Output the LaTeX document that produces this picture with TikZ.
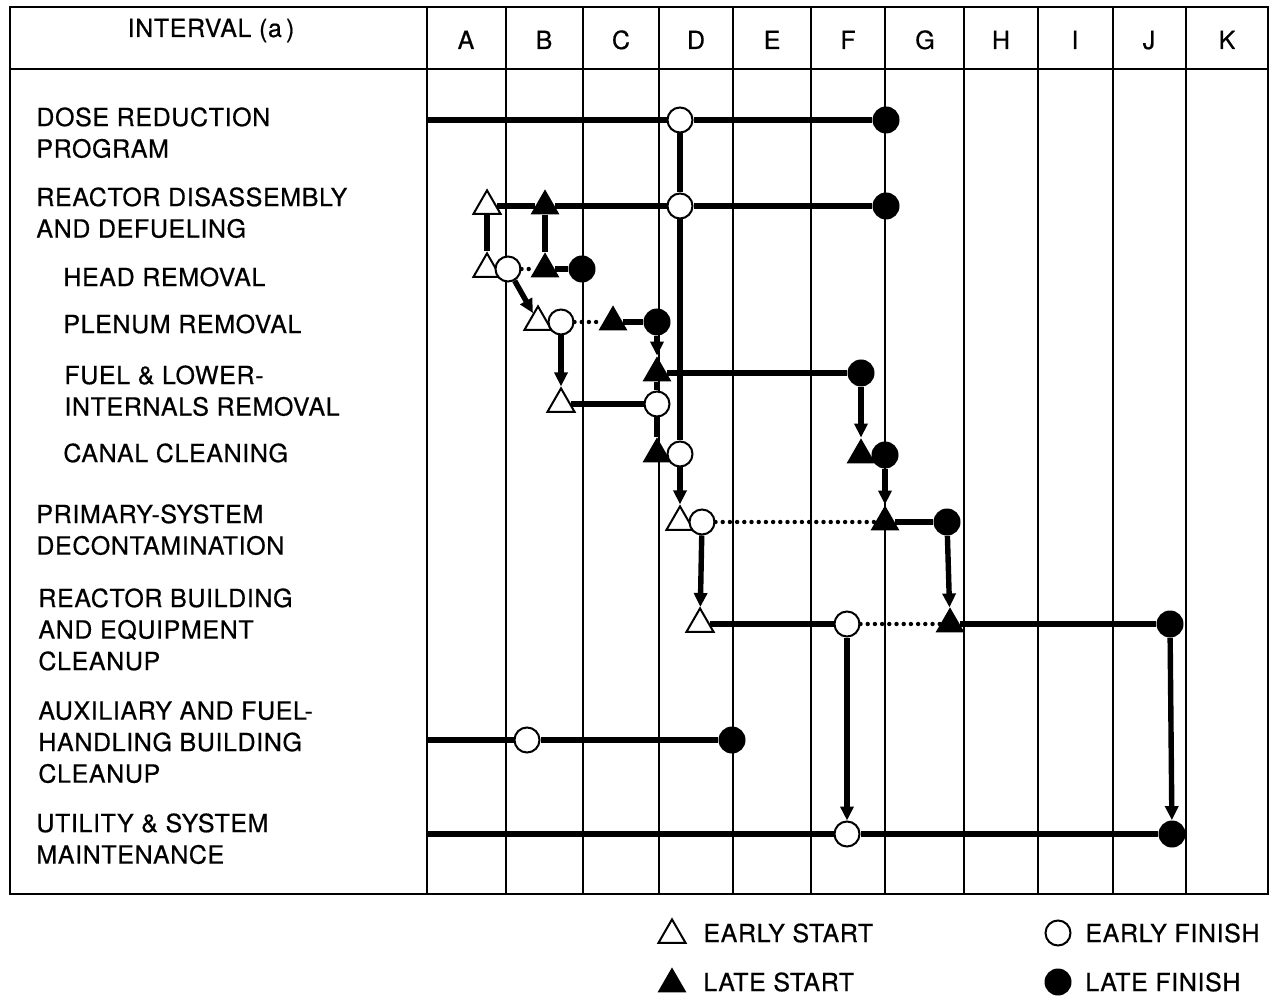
\documentclass[tikz,border=0pt]{standalone}
\usepackage{fontspec}
\setmainfont{TeX Gyre Heros}[LetterSpace=2.5,FakeBold=0.6]
\usetikzlibrary{shapes.geometric,arrows.meta}

\begin{document}
\begin{tikzpicture}[x=0.5pt,y=-0.5pt,font=\fontsize{12.5}{15.75}\selectfont]
		\tikzset{grid/.style={line width=1.1pt},
			bar/.style={line width=2.7pt},
			slack/.style={line width=2.2pt,dash pattern=on 0pt off 3.6pt,line cap=round},
			link/.style={line width=2.7pt,-{Triangle[length=7pt,width=6.5pt]}},
			estart/.style={regular polygon,regular polygon sides=3,draw,fill=white,line width=1pt,minimum size=15.6pt,inner sep=0pt},
			lstart/.style={regular polygon,regular polygon sides=3,fill=black,minimum size=16.6pt,inner sep=0pt},
			efinish/.style={circle,draw,fill=white,line width=1pt,minimum size=12.5pt,inner sep=0pt},
			lfinish/.style={circle,fill=black,minimum size=13.5pt,inner sep=0pt},
			task/.style={anchor=north west,align=left,inner sep=0pt}};
		\useasboundingbox (0,0) rectangle (1278,999);
		\draw[grid] (10,7) rectangle (1268,894);
		\draw[grid] (10,69) -- (1268,69);
		\foreach \x in {427,506,583,659,733,811,885,964,1038,1113,1186}
			\draw[grid] (\x,7) -- (\x,894);
		\node[anchor=base] (interval) at (211,37) {INTERVAL (a\,)};
		\foreach \c/\x in {A/466,B/544,C/621,D/696,E/772,F/848,G/925,H/1001,I/1075,J/1149,K/1227}
			\node[anchor=base] (col\c) at (\x,49) {\c};
		\node[task] (dose) at (36,107) {DOSE REDUCTION\\PROGRAM};
		\node[task] (rdd) at (36,187) {REACTOR DISASSEMBLY\\AND DEFUELING};
		\node[task] (head) at (63,267) {HEAD REMOVAL};
		\node[task] (plen) at (63,314) {PLENUM REMOVAL};
		\node[task] (fuel) at (64,365) {FUEL \& LOWER-\\INTERNALS REMOVAL};
		\node[task] (canal) at (63,443) {CANAL CLEANING};
		\node[task] (prim) at (36,504) {PRIMARY-SYSTEM\\DECONTAMINATION};
		\node[task] (rbe) at (38,588) {REACTOR BUILDING\\AND EQUIPMENT\\CLEANUP};
		\node[task] (aux) at (38,701) {AUXILIARY AND FUEL-\\HANDLING BUILDING\\CLEANUP};
		\node[task] (util) at (36,813) {UTILITY \& SYSTEM\\MAINTENANCE};
		\coordinate (d-0) at (427,120);
		\node[efinish] (d-ef) at (680,120) {};
		\node[lfinish] (d-lf) at (886,120) {};
		\node[estart] (r-es) at (487,206) {};
		\node[lstart] (r-ls) at (545,206) {};
		\node[efinish] (r-ef) at (680,206) {};
		\node[lfinish] (r-lf) at (886,206) {};
		\node[estart] (h-es) at (487,269) {};
		\node[efinish] (h-ef) at (508,269) {};
		\node[lstart] (h-ls) at (545,269) {};
		\node[lfinish] (h-lf) at (582,269) {};
		\node[estart] (p-es) at (538,322) {};
		\node[efinish] (p-ef) at (561,322) {};
		\node[lstart] (p-ls) at (613,322) {};
		\node[lfinish] (p-lf) at (657,322) {};
		\node[lstart] (f-ls) at (657,373) {};
		\node[lfinish] (f-lf) at (861,373) {};
		\node[estart] (f-es) at (561,404) {};
		\node[efinish] (f-ef) at (657,404) {};
		\node[lstart] (c-lsa) at (657,454) {};
		\node[efinish] (c-ef) at (680,454) {};
		\node[lstart] (c-lsb) at (861,455) {};
		\node[lfinish] (c-lf) at (885,455) {};
		\node[estart] (ps-es) at (680,522) {};
		\node[efinish] (ps-ef) at (702,522) {};
		\node[lstart] (ps-ls) at (885,522) {};
		\node[lfinish] (ps-lf) at (947,522) {};
		\node[estart] (rb-es) at (700,624) {};
		\node[efinish] (rb-ef) at (847,624) {};
		\node[lstart] (rb-ls) at (950,624) {};
		\node[lfinish] (rb-lf) at (1170,624) {};
		\coordinate (a-0) at (427,740);
		\node[efinish] (a-ef) at (527,740) {};
		\node[lfinish] (a-lf) at (732,740) {};
		\coordinate (u-0) at (427,834);
		\node[efinish] (u-ef) at (847,834) {};
		\node[lfinish] (u-lf) at (1172,834) {};
		\draw[bar] (d-0) -- (d-ef) -- (d-lf);
		\draw[bar] (r-es) -- (r-ls) -- (r-ef) -- (r-lf);
		\draw[bar] (h-ls) -- (h-lf);
		\draw[bar] (p-ls) -- (p-lf);
		\draw[bar] (f-ls) -- (f-lf);
		\draw[bar] (f-es) -- (f-ef);
		\draw[bar] (ps-ls) -- (ps-lf);
		\draw[bar] (rb-es) -- (rb-ef);
		\draw[bar] (rb-ls) -- (rb-lf);
		\draw[bar] (a-0) -- (a-ef) -- (a-lf);
		\draw[bar] (u-0) -- (u-ef) -- (u-lf);
		\draw[slack] (h-ef) -- (h-ls);
		\draw[slack] (p-ef) -- (p-ls);
		\draw[slack] (ps-ef) -- (ps-ls);
		\draw[slack] (rb-ef) -- (rb-ls);
		\draw[bar] (d-ef) -- (r-ef) -- (c-ef);
		\draw[bar] (r-es) -- (h-es);
		\draw[bar] (r-ls) -- (h-ls);
		\draw[bar] (f-ls) -- (f-ef) -- (c-lsa);
		\draw[link] (h-ef) -- (p-es);
		\draw[link] (p-ef) -- (f-es);
		\draw[link] (p-lf) -- (f-ls);
		\draw[link] (c-ef) -- (ps-es);
		\draw[link] (f-lf) -- (c-lsb);
		\draw[link] (c-lf) -- (ps-ls);
		\draw[link] (ps-ef) -- (rb-es);
		\draw[link] (ps-lf) -- (rb-ls);
		\draw[link] (rb-ef) -- (u-ef);
		\draw[link] (rb-lf) -- (u-lf);
		\node[estart] (key-es) at (672,935) {};
		\node[anchor=west,inner sep=0pt] (key-es-text) at (703,933) {EARLY START};
		\node[lstart] (key-ls) at (672,984) {};
		\node[anchor=west,inner sep=0pt] (key-ls-text) at (703,982) {LATE START};
		\node[efinish] (key-ef) at (1058,933) {};
		\node[anchor=west,inner sep=0pt] (key-ef-text) at (1085,933) {EARLY FINISH};
		\node[lfinish] (key-lf) at (1058,982) {};
		\node[anchor=west,inner sep=0pt] (key-lf-text) at (1085,982) {LATE FINISH};
	\end{tikzpicture}
\end{document}
